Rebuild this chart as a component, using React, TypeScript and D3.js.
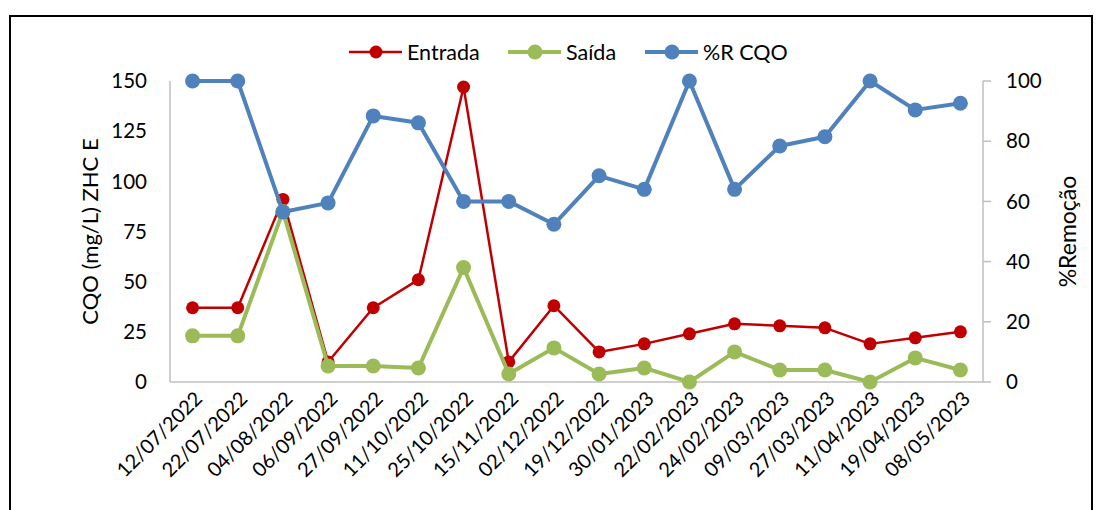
import React, { useEffect } from "react";
import * as d3 from "d3";

const dates = [
  "12/07/2022", "22/07/2022", "04/08/2022", "06/09/2022", "27/09/2022", "11/10/2022",
  "25/10/2022", "15/11/2022", "02/12/2022", "19/12/2022", "30/01/2023", "22/02/2023",
  "24/02/2023", "09/03/2023", "27/03/2023", "11/04/2023", "19/04/2023", "08/05/2023",
];
const entrada = [37, 37, 91, 10, 37, 51, 147, 10, 38, 15, 19, 24, 29, 28, 27, 19, 22, 25];
const saida = [23, 23, 85, 8, 8, 7, 57, 4, 17, 4, 7, 0, 15, 6, 6, 0, 12, 6];
const remocao = [100, 100, 56.5, 59.5, 88.4, 86.1, 60, 60, 52.4, 68.5, 64, 100, 64, 78.4, 81.5, 100, 90.4, 92.6];
const leftTicks = [0, 25, 50, 75, 100, 125, 150];
const rightTicks = [0, 20, 40, 60, 80, 100];

const W = 1102;
const H = 510;
const plot = { left: 170, right: 983, top: 81, bottom: 382 };
const font = "Lato, 'Open Sans', sans-serif";

export default function App() {
  useEffect(() => {
    document.body.style.margin = "0";
  }, []);

  const x = d3.scaleBand<string>().domain(dates).range([plot.left, plot.right]);
  const cx = (d: string) => (x(d) as number) + x.bandwidth() / 2;
  const yL = d3.scaleLinear().domain([0, 150]).range([plot.bottom, plot.top]);
  const yR = d3.scaleLinear().domain([0, 100]).range([plot.bottom, plot.top]);

  const series = [
    { name: "Entrada", values: entrada, y: yL, color: "#C00000", width: 2.5, r: 6.5 },
    { name: "Saída", values: saida, y: yL, color: "#9BBB59", width: 4, r: 7.5 },
    { name: "%R CQO", values: remocao, y: yR, color: "#4F81BD", width: 4, r: 7.5 },
  ];

  const legend = [
    { name: "Entrada", color: "#C00000", width: 2.5, r: 6.5, x0: 349 },
    { name: "Saída", color: "#9BBB59", width: 4, r: 7.5, x0: 508 },
    { name: "%R CQO", color: "#4F81BD", width: 4, r: 7.5, x0: 645 },
  ];

  return (
    <svg width={W} height={H} style={{ display: "block", fontFamily: font }}>
      <rect x={0} y={0} width={W} height={H} fill="#fff" />
      <rect x={10} y={16} width={1082} height={520} fill="none" stroke="#000" strokeWidth={2} />

      {/* axes */}
      <line x1={plot.left} x2={plot.left} y1={plot.top} y2={plot.bottom} stroke="#BFBFBF" strokeWidth={1.5} />
      <line x1={plot.left} x2={plot.right} y1={plot.bottom} y2={plot.bottom} stroke="#BFBFBF" strokeWidth={1.5} />
      <line x1={plot.right} x2={plot.right} y1={plot.top} y2={plot.bottom} stroke="#BFBFBF" strokeWidth={1.5} />

      {leftTicks.map((t) => (
        <text key={"l" + t} x={147} y={yL(t)} dy="0.35em" textAnchor="end" fontSize={20.5} fill="#000">
          {t}
        </text>
      ))}
      {rightTicks.map((t) => (
        <g key={"r" + t}>
          <line x1={plot.right} x2={plot.right + 8} y1={yR(t)} y2={yR(t)} stroke="#BFBFBF" strokeWidth={1.5} />
          <text x={1006} y={yR(t)} dy="0.35em" textAnchor="start" fontSize={20.5} fill="#000">
            {t}
          </text>
        </g>
      ))}

      {dates.map((d) => (
        <text
          key={d}
          transform={`translate(${cx(d) + 6},${plot.bottom + 13}) rotate(-45)`}
          textAnchor="end"
          dy="0.35em"
          fontSize={20}
          fill="#000"
        >
          {d}
        </text>
      ))}

      <text
        transform={`translate(90,${(plot.top + plot.bottom) / 2}) rotate(-90)`}
        textAnchor="middle"
        dy="0.35em"
        fontSize={22}
        fill="#000"
      >
        CQO (mg/L) ZHC E
      </text>
      <text
        transform={`translate(1068,${(plot.top + plot.bottom) / 2}) rotate(-90)`}
        textAnchor="middle"
        dy="0.35em"
        fontSize={23}
        fill="#000"
      >
        %Remoção
      </text>

      {/* series */}
      {series.map((s) => {
        const line = d3
          .line<number>()
          .x((_, i) => cx(dates[i]))
          .y((v) => s.y(v));
        return (
          <g key={s.name}>
            <path d={line(s.values) || ""} fill="none" stroke={s.color} strokeWidth={s.width} strokeLinejoin="round" />
            {s.values.map((v, i) => (
              <circle key={i} cx={cx(dates[i])} cy={s.y(v)} r={s.r} fill={s.color} />
            ))}
          </g>
        );
      })}

      {/* legend */}
      {legend.map((l) => (
        <g key={l.name}>
          <line x1={l.x0} x2={l.x0 + 53} y1={52} y2={52} stroke={l.color} strokeWidth={l.width} />
          <circle cx={l.x0 + 27} cy={52} r={l.r} fill={l.color} />
          <text x={l.x0 + 58} y={52} dy="0.35em" fontSize={21.5} fill="#000">
            {l.name}
          </text>
        </g>
      ))}
    </svg>
  );
}
